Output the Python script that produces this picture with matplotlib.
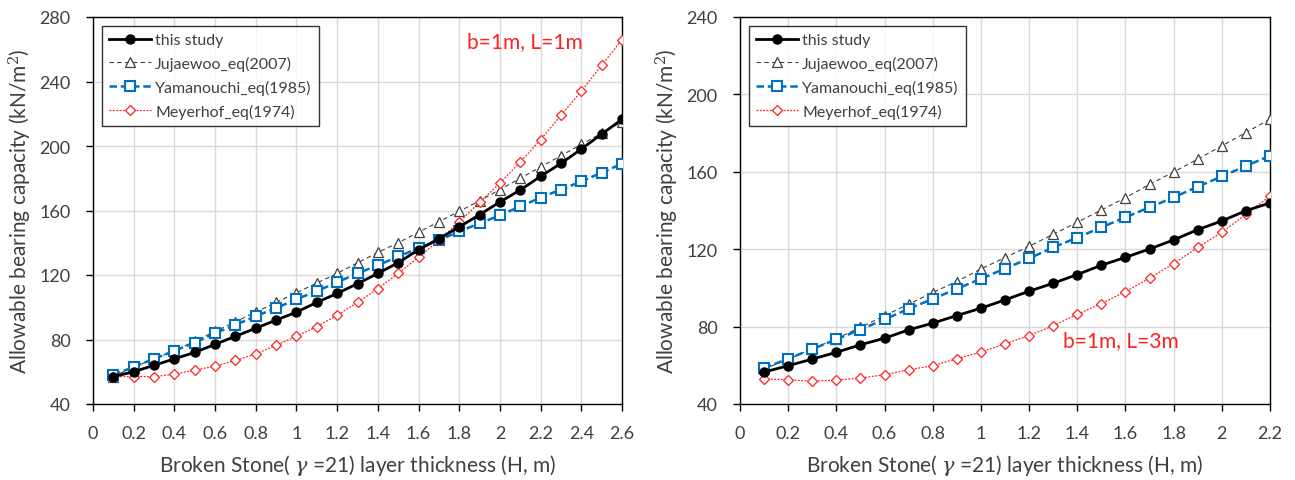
import numpy as np
import matplotlib.pyplot as plt

# layer thickness H (m)
h_left = [0.1, 0.2, 0.3, 0.4, 0.5, 0.6, 0.7, 0.8, 0.9, 1.0, 1.1, 1.2, 1.3,
          1.4, 1.5, 1.6, 1.7, 1.8, 1.9, 2.0, 2.1, 2.2, 2.3, 2.4, 2.5, 2.6]
h_right = h_left[:22]

# b=1m, L=1m
study_l = [57, 60, 64, 68, 72, 77, 82, 87, 92, 97, 103, 108.6, 114.6, 121,
           127.6, 135.7, 142.5, 149.8, 157.4, 165.3, 172.7, 181.2, 189.2,
           198.1, 207.4, 216.5]
jujaewoo_l = [57, 63, 68, 73, 79, 85, 91, 97, 103, 109, 115, 121, 127.5, 134,
              140, 146.5, 153, 159.5, 166, 173, 180, 187, 194, 201, 208, 215]
yamanouchi_l = [58, 63, 68, 73, 78, 84, 89, 94.5, 99.5, 105, 110, 115.5, 121,
                126, 131.5, 136.5, 141.5, 147, 152, 157, 162.5, 168, 173,
                178, 183.5, 189]
meyerhof_l = [57, 57, 57, 58.5, 61, 63.5, 67, 71, 76.5, 82, 88, 95, 103,
              111.5, 121, 131, 141.5, 153, 165, 177, 190, 204, 219, 234,
              250, 266]

# b=1m, L=3m
study_r = [56.5, 59.8, 63.2, 66.7, 70.6, 74, 78.3, 81.8, 85.7, 89.5, 93.8,
           98.3, 102.4, 106.9, 111.7, 115.8, 120.1, 124.8, 130.1, 134.6,
           139.9, 143.9]
jujaewoo_r = [58, 63.2, 68.5, 73.7, 79.7, 85.6, 91.6, 97.6, 103.3, 109.8,
              115.7, 121.5, 127.7, 133.9, 140.3, 146.6, 153.5, 159.9, 166.6,
              173.4, 180.3, 187.2]
yamanouchi_r = [58.6, 63.4, 68.4, 73.4, 78.5, 83.7, 89.2, 94.3, 99.5, 104.7,
                110, 115.2, 120.9, 126, 131.3, 136.5, 141.6, 146.8, 152.3,
                157.6, 163, 168.3]
meyerhof_r = [52.9, 52.6, 51.7, 52.4, 53.4, 55.1, 57.7, 59.8, 63.4, 66.8,
              71.1, 75.4, 80.4, 86.4, 91.9, 98.1, 105, 112.6, 120.9, 128.7,
              138, 147.5]

labels = ['this study', 'Jujaewoo_eq(2007)', 'Yamanouchi_eq(1985)', 'Meyerhof_eq(1974)']

plt.rcParams['font.family'] = ['Lato', 'DejaVu Sans']
plt.rcParams['mathtext.fontset'] = 'dejavuserif'

fig = plt.figure(figsize=(12.95, 4.81), dpi=100)
W, H = 1295, 481
ax1 = fig.add_axes([93 / W, 1 - 405 / H, 529 / W, 387 / H])
ax2 = fig.add_axes([740 / W, 1 - 405 / H, 530 / W, 387 / H])


def draw(ax, h, study, juj, yam, mey, xmax, ymax, note, note_xy):
    ax.plot(h, study, color='black', lw=2, marker='o', ms=6.5,
            mfc='black', mec='black', label=labels[0], zorder=5)
    ax.plot(h, juj, color='#404040', lw=0.8, ls=(0, (4, 3)), marker='^',
            ms=7, mfc='white', mec='#404040', mew=0.9, label=labels[1], zorder=3)
    ax.plot(h, yam, color='#0070C0', lw=1.8, ls=(0, (3, 1.5)), marker='s',
            ms=7.5, mfc='white', mec='#0070C0', mew=1.5, label=labels[2], zorder=4)
    ax.plot(h, mey, color='#FF2020', lw=0.9, ls=(0, (1.5, 1.2)), marker='D',
            ms=5.5, mfc='white', mec='#FF2020', mew=0.9, label=labels[3], zorder=4)

    ax.set_xlim(0, xmax)
    ax.set_ylim(40, ymax)
    ticks = np.arange(0, xmax + 0.01, 0.2).round(1)
    ax.set_xticks(ticks)
    ax.set_xticklabels([f'{v:g}' for v in ticks])
    ax.set_yticks(np.arange(40, ymax + 1, 40))
    ax.grid(True, color='#D9D9D9', lw=1)
    ax.set_axisbelow(True)
    ax.tick_params(axis='both', labelsize=13, labelcolor='#404040', color='black',
                   length=5, width=1, direction='out')
    ax.tick_params(axis='x', pad=10)
    ax.tick_params(axis='y', pad=11)
    for s in ax.spines.values():
        s.set_color('black')
        s.set_linewidth(1)

    ax.set_xlabel(r'Broken Stone( $\gamma$ =21) layer thickness (H, m)',
                  fontsize=15, color='#404040', labelpad=8)
    ax.set_ylabel('Allowable bearing capacity (kN/m$^2$)', fontsize=15,
                  color='#404040', labelpad=4)

    leg = ax.legend(loc='upper left', fontsize=11.5, frameon=True, fancybox=False,
                    edgecolor='black', handlelength=2.6, handletextpad=0.3,
                    borderaxespad=0.55, labelspacing=0.55, borderpad=0.45)
    leg.get_frame().set_linewidth(1)
    for t in leg.get_texts():
        t.set_color('#404040')

    ax.text(note_xy[0], note_xy[1], note, color='#FF2020', fontsize=15,
            ha='left', va='center')


draw(ax1, h_left, study_l, jujaewoo_l, yamanouchi_l, meyerhof_l,
     2.6, 280, 'b=1m, L=1m', (1.84, 265))
draw(ax2, h_right, study_r, jujaewoo_r, yamanouchi_r, meyerhof_r,
     2.2, 240, 'b=1m, L=3m', (1.34, 73))

fig.savefig('out.png', dpi=100)
